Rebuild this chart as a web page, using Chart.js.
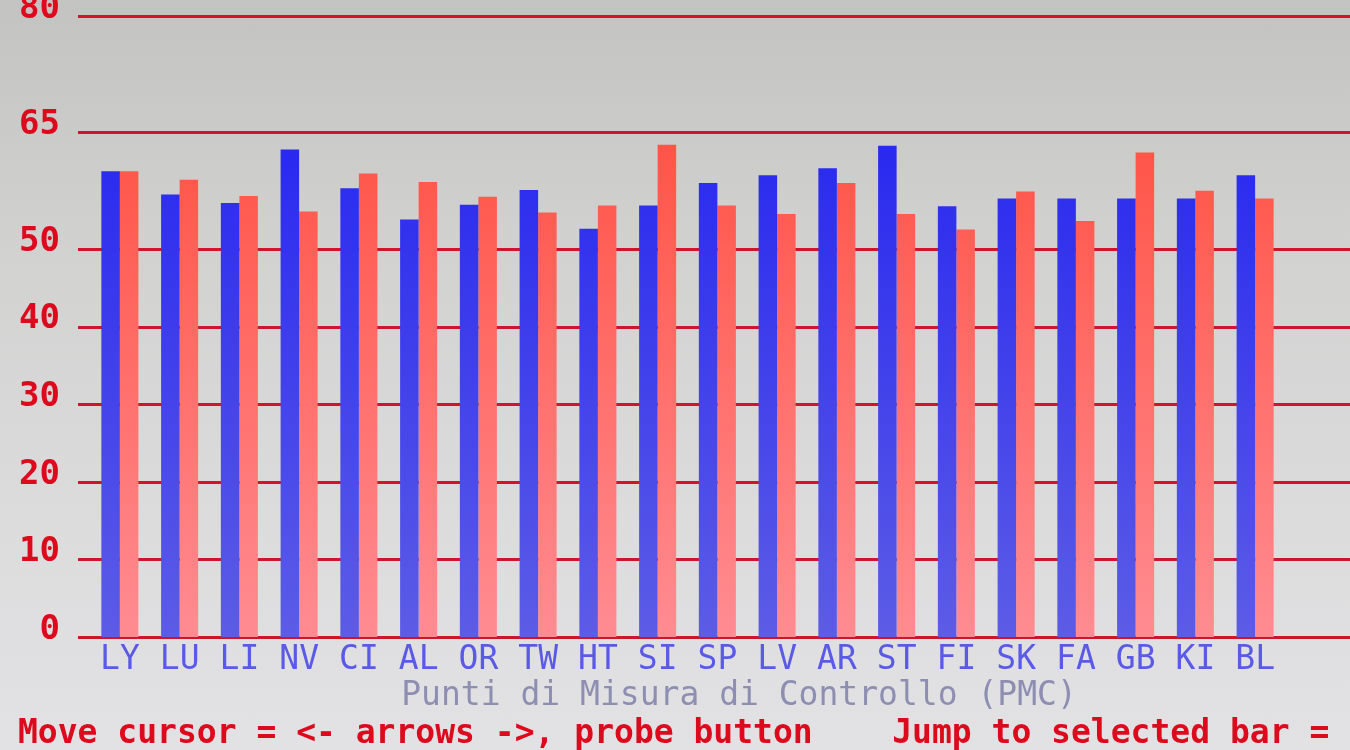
<!DOCTYPE html>
<html>
<head>
<meta charset="utf-8">
<script src="https://cdn.jsdelivr.net/npm/chart.js@4"></script>
<style>
  html, body { margin: 0; padding: 0; }
  body {
    width: 1350px; height: 750px; overflow: hidden; position: relative;
    background: linear-gradient(180deg, #c3c3c1 0%, #d2d2d1 35%, #dcdcdd 70%, #e2e2e4 100%);
    font-family: "DejaVu Sans Mono", monospace;
  }
  #wrap { position: absolute; left: 0; top: 0; width: 1350px; height: 750px; }
  .axisTitle {
    position: absolute; left: 739px; top: 674px; transform: translateX(-50%);
    font-size: 33px; color: #8e8eb2; white-space: pre;
  }
  .help {
    position: absolute; left: 18px; top: 712px;
    font-size: 33px; font-weight: bold; color: #dc0a1c; white-space: pre;
  }
</style>
</head>
<body>
<div id="wrap"><canvas id="dataChart" width="1350" height="750"></canvas></div>
<div class="axisTitle">Punti di Misura di Controllo (PMC)</div>
<div class="help">Move cursor = &lt;- arrows -&gt;, probe button    Jump to selected bar =</div>
<script>
// Punti di misura (categories)
const labels = ['LY', 'LU', 'LI', 'NV', 'CI', 'AL', 'OR', 'TW', 'HT', 'SI',
                'SP', 'LV', 'AR', 'ST', 'FI', 'SK', 'FA', 'GB', 'KI', 'BL'];

// Blue series
const blueValues = [60.0, 57.0, 55.9, 62.8, 57.8, 53.8, 55.7, 57.6, 52.6, 55.6,
                    58.5, 59.5, 60.4, 63.3, 55.5, 56.5, 56.5, 56.5, 56.5, 59.5];

// Red series
const redValues = [60.0, 58.9, 56.8, 54.8, 59.7, 58.6, 56.7, 54.7, 55.6, 63.4,
                   55.6, 54.5, 58.5, 54.5, 52.5, 57.4, 53.6, 62.4, 57.5, 56.5];

// Y axis tick labels
const yTicks = [0, 10, 20, 30, 40, 50, 65, 80];

// vertical gradient, bars fade out towards the bottom like on the screen
function barGradient(context, top, bottom) {
    const chart = context.chart;
    const area = chart.chartArea;
    if (!area) return top;
    const g = chart.ctx.createLinearGradient(0, area.top, 0, area.bottom);
    g.addColorStop(0, top);
    g.addColorStop(1, bottom);
    return g;
}

// red horizontal lines, wider than the plot area
const redLines = {
    id: 'redLines',
    beforeDatasetsDraw(chart) {
        const ctx = chart.ctx;
        const y = chart.scales.y;
        ctx.save();
        ctx.strokeStyle = '#d0142a';
        ctx.lineWidth = 3;
        yTicks.forEach(v => {
            const py = Math.round(y.getPixelForValue(v)) + 0.5;
            ctx.beginPath();
            ctx.moveTo(78, py);
            ctx.lineTo(chart.width, py);
            ctx.stroke();
        });
        ctx.restore();
    }
};

const ctx = document.getElementById('dataChart').getContext('2d');

new Chart(ctx, {
    type: 'bar',
    data: {
        labels: labels,
        datasets: [
            {
                label: 'Blu',
                data: blueValues,
                backgroundColor: c => barGradient(c, '#1c1cf2', '#5c5ce6'),
                borderWidth: 0
            },
            {
                label: 'Rosso',
                data: redValues,
                backgroundColor: c => barGradient(c, '#ff4634', '#ff8c92'),
                borderWidth: 0
            }
        ]
    },
    options: {
        responsive: false,
        animation: false,
        devicePixelRatio: 1,
        layout: { padding: { left: 18, right: 65, top: 16, bottom: 0 } },
        plugins: {
            legend: { display: false },
            tooltip: { enabled: false }
        },
        datasets: {
            bar: { categoryPercentage: 0.62, barPercentage: 1.0 }
        },
        scales: {
            x: {
                grid: { display: false, drawTicks: false },
                border: { display: false },
                ticks: {
                    color: '#5a5ae6',
                    padding: 4,
                    maxRotation: 0,
                    autoSkip: false,
                    font: { family: 'DejaVu Sans Mono', size: 33 }
                },
                afterFit(scale) {
                    scale.height = 113;
                    scale.paddingLeft = 0;
                    scale.paddingRight = 0;
                }
            },
            y: {
                min: 0,
                max: 80,
                grid: { display: false, drawTicks: false },
                border: { display: false },
                afterBuildTicks(scale) {
                    scale.ticks = yTicks.map(v => ({ value: v }));
                },
                ticks: {
                    color: '#dc0a1c',
                    padding: 30,
                    labelOffset: -7,
                    font: { family: 'DejaVu Sans Mono', size: 34, weight: 'bold' }
                },
                afterFit(scale) {
                    scale.width = 72;
                    scale.paddingTop = 0;
                    scale.paddingBottom = 0;
                }
            }
        }
    },
    plugins: [redLines]
});
</script>
</body>
</html>
